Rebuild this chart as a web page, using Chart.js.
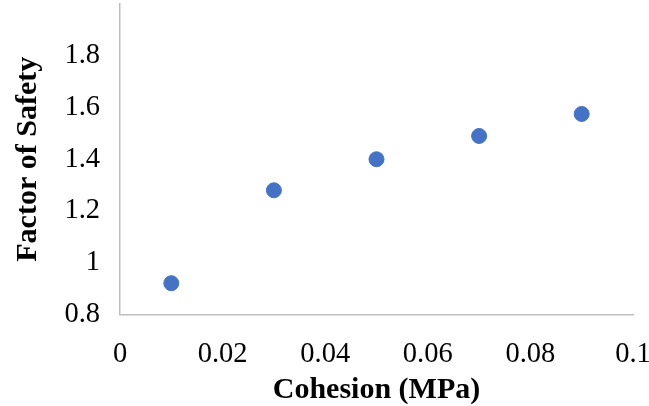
<!DOCTYPE html>
<html>
<head>
<meta charset="utf-8">
<script src="https://cdn.jsdelivr.net/npm/chart.js@4/dist/chart.umd.min.js"></script>
<style>
  html, body { margin: 0; padding: 0; background: #fff; }
  #wrap { width: 649px; height: 406px; }
</style>
</head>
<body>
<div id="wrap"><canvas id="chart" width="649" height="406"></canvas></div>
<script>
const cohesion = [0.01, 0.03, 0.05, 0.07, 0.09];
const factorOfSafety = [0.921, 1.28, 1.40, 1.49, 1.575];
const xTitle = 'Cohesion (MPa)';
const yTitle = 'Factor of Safety';

const serif = "'Liberation Serif', 'Times New Roman', serif";
const axisGray = '#BFBFBF';

const points = cohesion.map((c, i) => ({ x: c, y: factorOfSafety[i] }));

new Chart(document.getElementById('chart'), {
  type: 'scatter',
  data: {
    datasets: [{
      label: 'FoS',
      data: points,
      backgroundColor: '#4472C4',
      borderColor: '#4472C4',
      pointRadius: 7.5,
      pointHoverRadius: 7.5,
    }],
  },
  options: {
    responsive: false,
    animation: false,
    layout: { autoPadding: false, padding: { top: 4, right: 16, left: 0, bottom: 0 } },
    plugins: {
      legend: { display: false },
      tooltip: { enabled: false },
    },
    scales: {
      x: {
        type: 'linear',
        min: 0,
        max: 0.1,
        grid: { display: false, drawTicks: false },
        border: { display: true, color: axisGray, width: 1.5 },
        ticks: {
          stepSize: 0.02,
          padding: 23,
          color: '#000',
          font: { family: serif, size: 28.5 },
          callback: v => String(Math.round(v * 100) / 100),
        },
        title: {
          display: true,
          text: xTitle,
          color: '#000',
          font: { family: serif, size: 30, weight: 'bold', lineHeight: 1 },
          padding: { top: 0, bottom: 1 },
        },
        afterFit: s => {
          s.height = 91.5;
          s.paddingLeft = 0;
          s.paddingRight = 0;
        },
      },
      y: {
        min: 0.8,
        max: 2.0,
        grid: { display: false, drawTicks: false },
        border: { display: true, color: axisGray, width: 1.5 },
        ticks: {
          stepSize: 0.2,
          padding: 20,
          color: '#000',
          font: { family: serif, size: 28.5 },
          callback: v => (Math.abs(v - 2) < 1e-9 ? '' : String(Math.round(v * 10) / 10)),
        },
        title: {
          display: true,
          text: yTitle,
          color: '#000',
          font: { family: serif, size: 30, weight: 'bold', lineHeight: 1 },
          padding: { top: 13, bottom: 0 },
        },
        afterFit: s => {
          s.width = 120;
          s.paddingTop = 0;
          s.paddingBottom = 0;
        },
      },
    },
  },
});
</script>
</body>
</html>
